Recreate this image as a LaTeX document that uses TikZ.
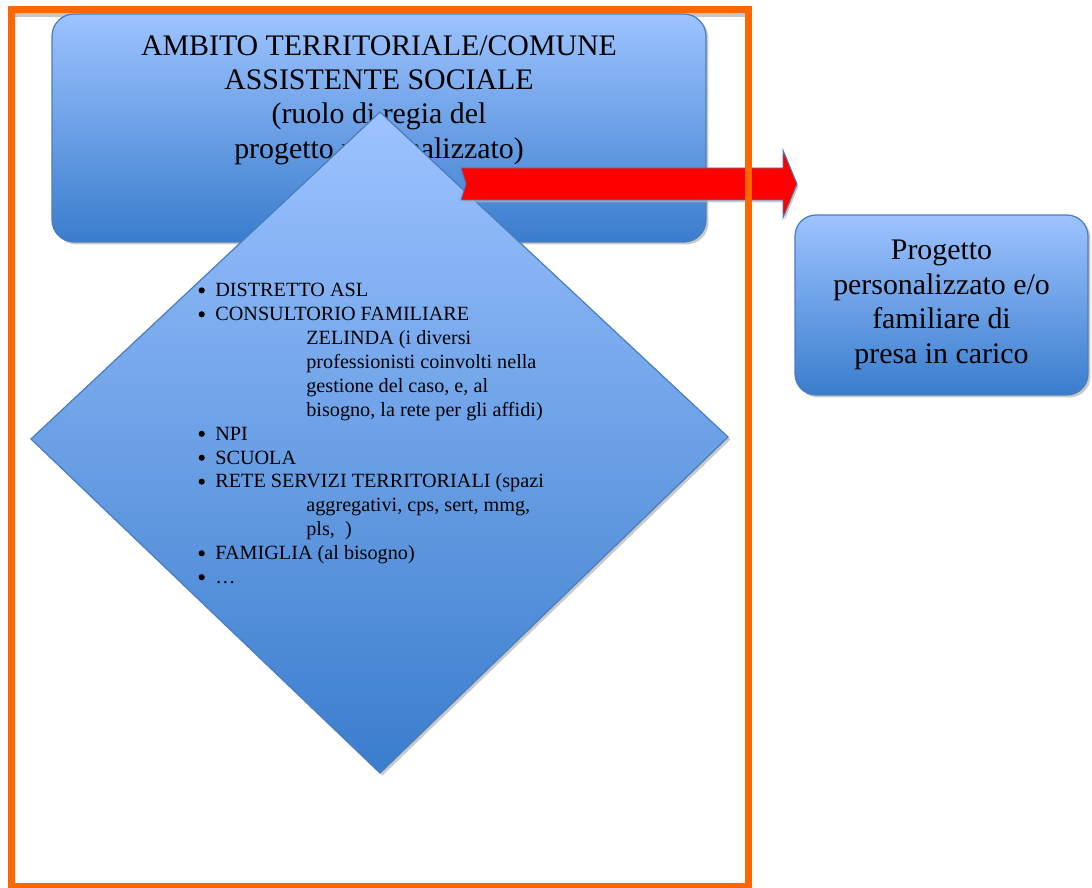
\documentclass[tikz,border=0pt]{standalone}
\usepackage{fontspec}
\setmainfont{Liberation Serif}
\usetikzlibrary{shadows}
\definecolor{boxtop}{RGB}{157,195,255}
\definecolor{boxbottom}{RGB}{58,125,205}
\definecolor{boxline}{RGB}{74,126,187}
\definecolor{frameorange}{RGB}{255,102,0}
\tikzset{
	bluebox/.style={draw=boxline, line width=0.7pt, top color=boxtop, bottom color=boxbottom,
		drop shadow={shadow xshift=0.05cm, shadow yshift=-0.05cm, fill=gray!60, opacity=0.7}},
	bigtext/.style={font=\fontsize{17}{19.6}\selectfont, align=center},
	listtext/.style={font=\fontsize{11.5}{13.6}\selectfont, anchor=base west, inner sep=0pt}
}

\begin{document}
\begin{tikzpicture}[x=0.02cm,y=-0.02cm]
\useasboundingbox (0,0) rectangle (1092,888);
\draw [gray!45, line width=0.14cm, yshift=-0.08cm] (11.5,9.5) rectangle (748,886);

\node [bluebox, rounded corners=0.44cm, minimum width=13.08cm, minimum height=4.56cm] (ambito) at (379,128) {};
\node [bigtext] (ambitotext) at (379,100) {AMBITO TERRITORIALE/COMUNE\\ASSISTENTE SOCIALE\\(ruolo di regia del\\progetto personalizzato)};

\coordinate (DT) at (380,112);
\coordinate (DR) at (728,437);
\coordinate (DB) at (380,773);
\coordinate (DL) at (31,439);
\draw [bluebox] (DT)--(DR)--(DB)--(DL)--cycle;

\foreach \b/\txt [count=\i from 0] in {1/{DISTRETTO ASL}, 1/{CONSULTORIO FAMILIARE}, 0/{ZELINDA (i diversi}, 0/{professionisti coinvolti nella}, 0/{gestione del caso, e, al}, 0/{bisogno, la rete per gli affidi)}, 1/{NPI}, 1/{SCUOLA}, 1/{RETE SERVIZI TERRITORIALI (spazi}, 0/{aggregativi, cps, sert, mmg,}, 0/{pls,\ \ )}, 1/{FAMIGLIA (al bisogno)}, 1/{…}}{
	\pgfmathsetmacro\yy{296.7+23.9*\i}
	\ifnum\b=1
		\fill (201.7,\yy-6.3) circle (1.75pt);
		\node [listtext] (item\i) at (215,\yy) {\txt};
	\else
		\node [listtext] (item\i) at (306,\yy) {\txt};
	\fi
}

\coordinate (AL) at (461,184);
\coordinate (AT) at (797,184);
\draw [draw=boxline, line width=0.5pt, fill=red, drop shadow={shadow xshift=0.03cm, shadow yshift=-0.05cm, fill=gray!60, opacity=0.7}]
	(461,168)--(783,168)--(783,150)--(AT)--(783,218)--(783,200)--(461,200)--(466,184)--cycle;

\node [bluebox, bigtext, rounded corners=0.42cm, minimum width=5.86cm, minimum height=3.6cm] (progetto) at (941.5,305) {Progetto\\personalizzato e/o\\familiare di\\presa in carico};

\draw [frameorange, line width=0.14cm] (11.5,9.5) rectangle (748,886);
\end{tikzpicture}
\end{document}
